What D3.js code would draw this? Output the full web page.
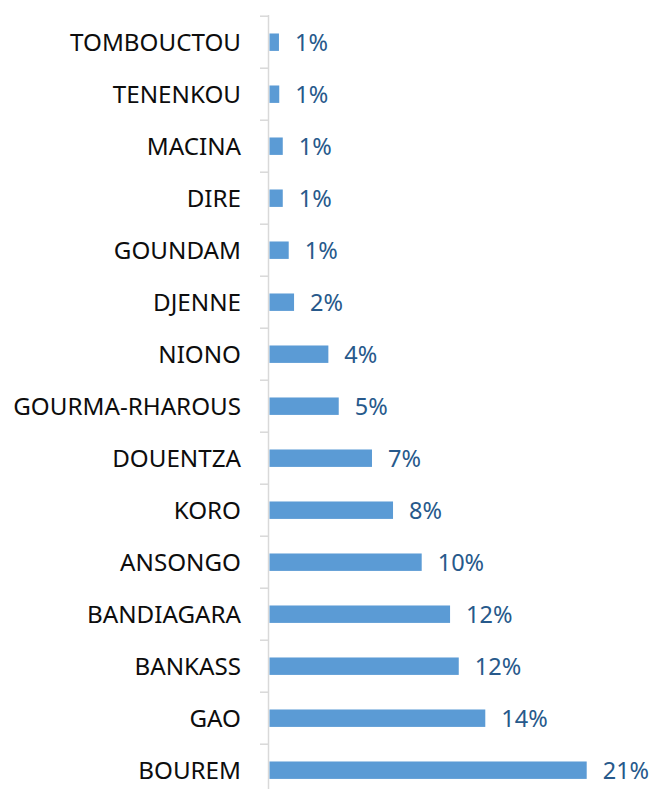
<!DOCTYPE html>
<html>
<head>
<meta charset="utf-8">
<script src="https://cdn.jsdelivr.net/npm/d3@7"></script>
<style>
  body { margin: 0; background: #fff; }
</style>
</head>
<body>
<div id="chart-container"></div>
<script>
// categories, top to bottom
const cercles = ["TOMBOUCTOU", "TENENKOU", "MACINA", "DIRE", "GOUNDAM", "DJENNE", "NIONO",
  "GOURMA-RHAROUS", "DOUENTZA", "KORO", "ANSONGO", "BANDIAGARA", "BANKASS", "GAO", "BOUREM"];
// share in percent
const shares = [0.62, 0.64, 0.87, 0.87, 1.26, 1.61, 3.86, 4.54, 6.72, 8.10, 9.98, 11.84, 12.41, 14.15, 20.80];
// labels shown next to the bars
const shareLabels = ["1%", "1%", "1%", "1%", "1%", "2%", "4%", "5%", "7%", "8%", "10%", "12%", "12%", "14%", "21%"];

const data = cercles.map((c, i) => ({ name: c, value: shares[i], label: shareLabels[i] }));

const createBarChart = (data) => {
  const svgWidth = 654;
  const svgHeight = 789;
  const step = 52;
  const top = 16.2;
  const fontFam = "'Noto Sans', 'Open Sans', sans-serif";

  const xScale = d3.scaleLinear()
    .domain([0, 25])
    .range([269.5, 269.5 + 25 * 15.25]);

  const yScale = d3.scaleBand()
    .domain(data.map(d => d.name))
    .range([top, top + step * data.length])
    .paddingInner(0.665)
    .paddingOuter(0.3325);

  const svg = d3.select("#chart-container")
    .append("svg")
    .attr("width", svgWidth)
    .attr("height", svgHeight);

  // vertical axis line + tick marks between categories
  svg.append("line")
    .attr("x1", 268.5).attr("x2", 268.5)
    .attr("y1", 15).attr("y2", svgHeight)
    .attr("stroke", "#d9d9d9")
    .attr("stroke-width", 1.5);

  svg.selectAll("line.tick")
    .data(d3.range(data.length + 1))
    .join("line")
    .attr("class", "tick")
    .attr("x1", 260).attr("x2", 268.5)
    .attr("y1", i => top + i * step)
    .attr("y2", i => top + i * step)
    .attr("stroke", "#d9d9d9")
    .attr("stroke-width", 1.5);

  const row = svg.selectAll("g.row")
    .data(data)
    .join("g")
    .attr("class", "row")
    .attr("transform", d => `translate(0, ${yScale(d.name)})`);

  row.append("rect")
    .attr("x", xScale(0))
    .attr("y", 0)
    .attr("width", d => xScale(d.value) - xScale(0))
    .attr("height", yScale.bandwidth())
    .attr("fill", "#5b9bd5");

  const mid = yScale.bandwidth() / 2;

  row.append("text")
    .text(d => d.name)
    .attr("x", 241)
    .attr("y", mid + 8.6)
    .attr("text-anchor", "end")
    .style("font-family", fontFam)
    .style("font-size", "24.2px")
    .style("fill", "#0d0d0d");

  row.append("text")
    .text(d => d.label)
    .attr("x", d => xScale(d.value) + 16)
    .attr("y", mid + 9.2)
    .style("font-family", fontFam)
    .style("font-size", "23.5px")
    .style("fill", "#27598b");
};

createBarChart(data);
</script>
</body>
</html>
